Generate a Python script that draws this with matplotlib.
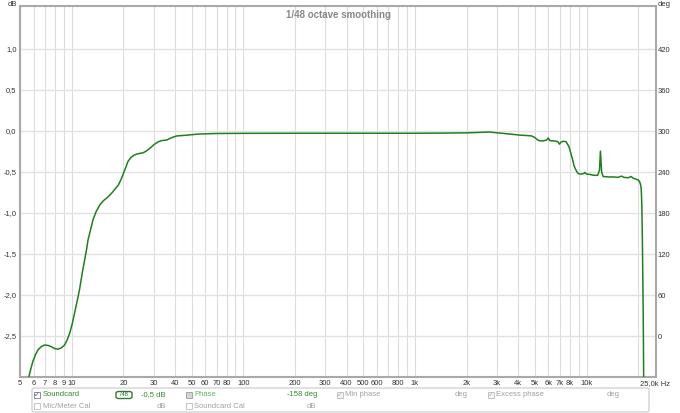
import matplotlib.pyplot as plt
from matplotlib.patches import FancyBboxPatch, Rectangle
from matplotlib.ticker import FixedLocator, NullFormatter

# --- data ------------------------------------------------------------------
freq_hz = [5.55, 5.63, 5.75, 5.94, 6.15, 6.36, 6.65, 6.95, 7.3, 7.6, 8.0, 8.32,
           8.7, 9.1, 9.4, 9.73, 10.05, 10.4, 10.75, 11.1, 11.55, 12.2, 12.45,
           12.9, 13.3, 13.9, 14.6, 15.3, 15.96, 16.7, 17.4, 18.0, 18.7, 19.4,
           20.0, 20.7, 21.3, 22.2, 23.3, 24.6, 26.1, 27.4, 28.6, 30.2, 32.0,
           33.8, 35.8, 38.3, 41.0, 46.9, 54.8, 70, 100, 200, 500, 1000, 1500,
           2000, 2500, 2700, 3130, 3500, 4100, 4500, 4790, 5000, 5200, 5360,
           5600, 5850, 5990, 6100, 6230, 6500, 6800, 6950, 7100, 7300, 7600,
           7900, 8100, 8300, 8450, 8560, 8800, 8980, 9300, 9600, 9800, 10000,
           10500, 11000, 11600, 11900, 12050, 12250, 12500, 13500, 14400,
           15200, 16000, 16500, 17500, 18200, 18700, 19600, 20100, 20400,
           20700, 20850, 21000, 21150, 21300, 21450, 21550]
level_db = [-3.1, -3.0, -2.92, -2.81, -2.73, -2.67, -2.63, -2.61, -2.615, -2.63,
            -2.655, -2.66, -2.645, -2.61, -2.55, -2.47, -2.36, -2.22, -2.08,
            -1.94, -1.72, -1.45, -1.33, -1.2, -1.085, -0.98, -0.90, -0.85,
            -0.82, -0.78, -0.74, -0.70, -0.66, -0.59, -0.52, -0.44, -0.37,
            -0.32, -0.29, -0.275, -0.265, -0.24, -0.21, -0.165, -0.13, -0.115,
            -0.11, -0.08, -0.06, -0.05, -0.037, -0.03, -0.028, -0.027, -0.027,
            -0.027, -0.025, -0.022, -0.015, -0.012, -0.025, -0.035, -0.05,
            -0.055, -0.06, -0.08, -0.11, -0.12, -0.12, -0.11, -0.085, -0.115,
            -0.12, -0.12, -0.13, -0.16, -0.135, -0.125, -0.13, -0.19, -0.27,
            -0.35, -0.42, -0.45, -0.5, -0.52, -0.525, -0.52, -0.505, -0.525,
            -0.53, -0.54, -0.54, -0.48, -0.245, -0.50, -0.555, -0.56, -0.56,
            -0.565, -0.55, -0.565, -0.57, -0.555, -0.575, -0.59, -0.6, -0.62,
            -0.66, -0.72, -0.90, -1.3, -1.85, -2.5, -3.2]

x_label_ticks = [5, 6, 7, 8, 9, 10, 20, 30, 40, 50, 60, 70, 80, 100, 200, 300,
                 400, 500, 600, 800, 1000, 2000, 3000, 4000, 5000, 6000, 7000,
                 8000, 10000, 25000]
x_labels = ["5", "6", "7", "8", "9", "10", "20", "30", "40", "50", "60", "70",
            "80", "100", "200", "300", "400", "500", "600", "800", "1k", "2k",
            "3k", "4k", "5k", "6k", "7k", "8k", "10k", "25,0k Hz"]
x_grid = [5, 6, 7, 8, 9, 10, 20, 30, 40, 50, 60, 70, 80, 90, 100, 200, 300,
          400, 500, 600, 700, 800, 900, 1000, 2000, 3000, 4000, 5000, 6000,
          7000, 8000, 9000, 10000, 20000]
db_ticks = [-2.5, -2.0, -1.5, -1.0, -0.5, 0.0, 0.5, 1.0]
db_labels = ["-2,5", "-2,0", "-1,5", "-1,0", "-0,5", "0,0", "0,5", "1,0"]
deg_ticks = [0, 60, 120, 180, 240, 300, 360, 420]

W, H = 680, 413
TICK_FONT = ['Liberation Sans Narrow', 'Liberation Sans', 'DejaVu Sans']
UI_FONT = ['Liberation Sans', 'DejaVu Sans']


def px(x, y):
    return x / W, 1 - y / H


fig = plt.figure(figsize=(6.8, 4.13), dpi=100)
fig.patch.set_facecolor('white')
ax = fig.add_axes([20 / W, 1 - 377 / H, 636 / W, 371 / H])

ax.plot(freq_hz, level_db, color='#1f7f1f', lw=1.1, zorder=3)

ax.set_xscale('log')
ax.set_xlim(5, 25400)
ax.set_ylim(-3.0, 1.525)

ax.xaxis.remove_overlapping_locs = False
ax.xaxis.set_major_locator(FixedLocator(x_label_ticks))
ax.set_xticklabels(x_labels)
ax.xaxis.set_minor_locator(FixedLocator(x_grid))
ax.xaxis.set_minor_formatter(NullFormatter())
ax.set_yticks(db_ticks)
ax.set_yticklabels(db_labels)

ax.grid(False)
ax.grid(True, which='minor', axis='x', color='#dcdcdc', lw=0.8)
ax.grid(True, which='major', axis='y', color='#e2e2e2', lw=1.0)
ax.set_axisbelow(True)

ax.tick_params(axis='both', which='both', length=0, colors='#333333')
ax.tick_params(axis='x', pad=2)
ax.tick_params(axis='y', pad=2.5)
for lab in ax.get_xticklabels() + ax.get_yticklabels():
    lab.set_family(TICK_FONT)
    lab.set_fontsize(5.5)

for sp in ax.spines.values():
    sp.set_color('#a9a9a9')
    sp.set_linewidth(1.5)

ax2 = ax.twinx()
ax2.set_ylim(300 + 120 * -3.0, 300 + 120 * 1.525)
ax2.set_yticks(deg_ticks)
ax2.tick_params(axis='y', length=0, pad=1, colors='#333333')
for lab in ax2.get_yticklabels():
    lab.set_family(TICK_FONT)
    lab.set_fontsize(5.5)
for sp in ax2.spines.values():
    sp.set_visible(False)

ax.text(0.5, 0.975, "1/48 octave smoothing", transform=ax.transAxes,
        ha='center', va='center', color='#888888', fontsize=7,
        fontweight='bold', family=UI_FONT)

fig.text(*px(17, 4), "dB", ha='right', va='center', fontsize=5.5,
         color='#333333', family=TICK_FONT)
fig.text(*px(658, 4), "deg", ha='left', va='center', fontsize=5.5,
         color='#333333', family=TICK_FONT)

# --- control panel below the plot -----------------------------------------
x0, y0 = px(32, 412)
x1, y1 = px(649, 388)
fig.add_artist(FancyBboxPatch((x0, y0), x1 - x0, y1 - y0,
                              boxstyle="round,pad=0,rounding_size=0.004",
                              transform=fig.transFigure, fc='white',
                              ec='#c8c8c8', lw=0.8))


def checkbox(x, y, checked=False, fill='white', edge='#8c8c8c', mark='#3a5fa8'):
    bx, by = px(x, y + 3)
    fig.add_artist(Rectangle((bx, by), 6 / W, 6 / H, transform=fig.transFigure,
                             fc=fill, ec=edge, lw=0.6))
    if checked:
        fig.text(*px(x + 3, y), "\u2713", ha='center', va='center_baseline',
                 fontsize=5, color=mark, family='DejaVu Sans')


def label(x, y, s, color, ha='left'):
    fig.text(*px(x, y), s, ha=ha, va='center', fontsize=5.5, color=color,
             family=UI_FONT)


r1, r2 = 395, 406
green, lgreen, grey = '#2e8b2e', '#5fb55f', '#a0a0a0'

checkbox(34, r1, checked=True, edge='#7a7a7a')
label(43, r1, "Soundcard", green)
ix, iy = px(116, r1 + 3.5)
fig.add_artist(FancyBboxPatch((ix, iy), 16 / W, 7 / H,
                              boxstyle="round,pad=0,rounding_size=0.004",
                              transform=fig.transFigure, fc='white',
                              ec='#2e7d2e', lw=1.0))
fig.text(*px(124, r1), "/48", ha='center', va='center', fontsize=4,
         color='#1f5f1f', family=UI_FONT)
label(166, r1, "-0,5 dB", green, ha='right')
checkbox(186, r1, fill='#d4d4d4', edge='#9a9a9a')
label(194, r1, "Phase", lgreen)
label(317, r1, "-158 deg", green, ha='right')
checkbox(337, r1, checked=True, fill='#f4f4f4', edge='#bdbdbd', mark='#b0b0b0')
label(345, r1, "Min phase", grey)
label(468, r1, "deg", grey, ha='right')
checkbox(488, r1, checked=True, fill='#f4f4f4', edge='#bdbdbd', mark='#b0b0b0')
label(496, r1, "Excess phase", grey)
label(620, r1, "deg", grey, ha='right')

checkbox(34, r2, edge='#bdbdbd')
label(43, r2, "Mic/Meter Cal", grey)
label(166, r2, "dB", grey, ha='right')
checkbox(186, r2, edge='#bdbdbd')
label(194, r2, "Soundcard Cal", grey)
label(316, r2, "dB", grey, ha='right')

fig.savefig('out.png', dpi=100)
